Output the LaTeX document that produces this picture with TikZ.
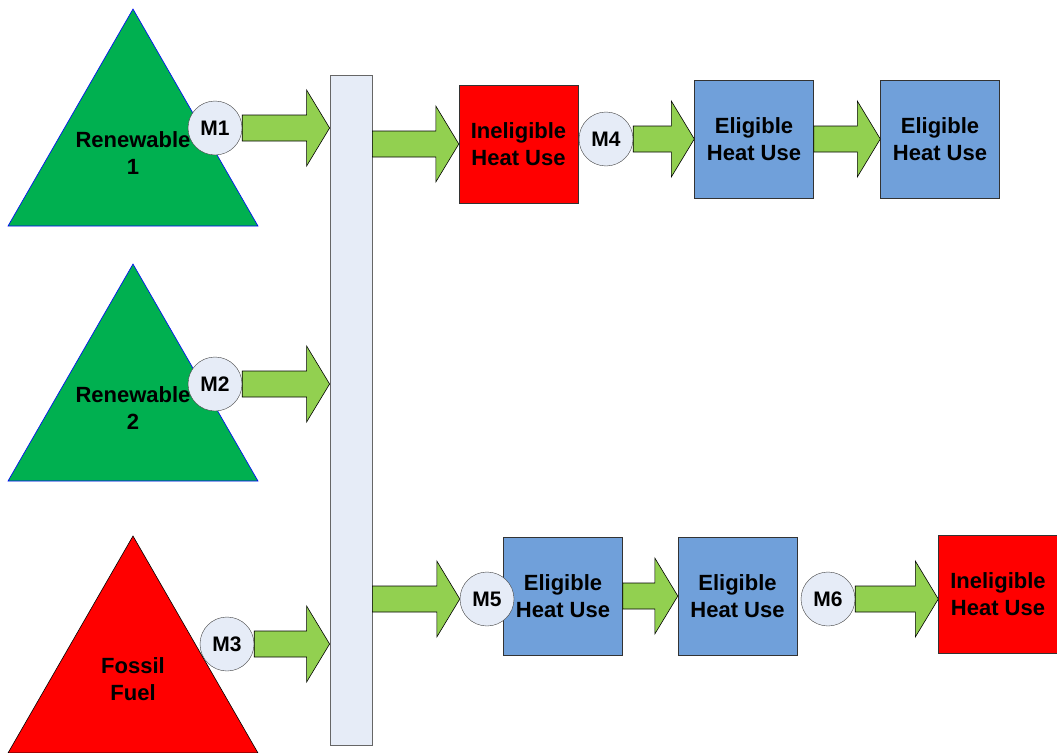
\documentclass[tikz,border=0pt]{standalone}
\usepackage{fontspec}
\setmainfont{Liberation Sans}
\usetikzlibrary{calc}
\definecolor{renewgreen}{RGB}{0,176,80}
\definecolor{arrowgreen}{RGB}{146,208,80}
\definecolor{busfill}{RGB}{230,236,247}
\definecolor{heatblue}{RGB}{112,160,218}
\tikzset{
  label text/.style={font=\bfseries\fontsize{22}{27}\selectfont, align=center},
  heatbox/.style={draw=black!80, label text, minimum width=119pt, minimum height=118pt, inner sep=0pt},
  eligible/.style={heatbox, fill=heatblue},
  ineligible/.style={heatbox, fill=red},
  meter/.style={circle, draw=black!75, fill=busfill, minimum size=54pt, inner sep=0pt,
    font=\bfseries\fontsize{21}{24}\selectfont},
  fatarrow/.style={draw=black, fill=arrowgreen, line width=0.6pt},
}
\newcommand{\myFatArrow}[2]{
\draw[fatarrow] let \p1=(#1), \p2=(#2) in
  (\x1,\y1+13pt) -- (\x2-23pt,\y1+13pt) -- (\x2-23pt,\y1+38pt) -- (\x2,\y1)
  -- (\x2-23pt,\y1-38pt) -- (\x2-23pt,\y1-13pt) -- (\x1,\y1-13pt) -- cycle;
}

\begin{document}
\begin{tikzpicture}[x=1pt, y=-1pt]
  \useasboundingbox (0,0) rectangle (1057,752);
  % define points
  \coordinate (R1top) at (133,9);
  \coordinate (R1left) at (8,226);
  \coordinate (R1right) at (258,226);
  \coordinate (R2top) at (133,264);
  \coordinate (R2left) at (8,481);
  \coordinate (R2right) at (258,481);
  \coordinate (FFtop) at (133,536);
  \coordinate (FFleft) at (8,753);
  \coordinate (FFright) at (258,753);
  % sources
  \draw[fill=renewgreen, draw=blue, line width=0.6pt] (R1top) -- (R1right) -- (R1left) -- cycle;
  \draw[fill=renewgreen, draw=blue, line width=0.6pt] (R2top) -- (R2right) -- (R2left) -- cycle;
  \draw[fill=red, draw=black, line width=0.6pt] (FFtop) -- (FFright) -- (FFleft) -- cycle;
  \node[label text] (R1) at (133,153) {Renewable\\1};
  \node[label text] (R2) at (133,408) {Renewable\\2};
  \node[label text] (FF) at (133,679) {Fossil\\Fuel};
  % header bar
  \node[draw=black!60, fill=busfill, line width=0.8pt, minimum width=42pt, minimum height=670pt,
    inner sep=0pt] (bus) at (351,410) {};
  % heat uses
  \node[ineligible] (in1) at (518.5,144) {Ineligible\\Heat Use};
  \node[eligible] (el1) at (754,139) {Eligible\\Heat Use};
  \node[eligible] (el2) at (940,139) {Eligible\\Heat Use};
  \node[eligible] (el3) at (563,596) {Eligible\\Heat Use};
  \node[eligible] (el4) at (737.5,596) {Eligible\\Heat Use};
  \node[ineligible] (in2) at (998,594.5) {Ineligible\\Heat Use};
  % meters (positions only, drawn after the arrows)
  \coordinate (m1) at (215,128);
  \coordinate (m2) at (215,384);
  \coordinate (m3) at (227,644);
  \coordinate (m4) at (606,139);
  \coordinate (m5) at (487,599);
  \coordinate (m6) at (828,599);
  \path (m1) node[meter, draw=none, fill=none] (M1) {} (m2) node[meter, draw=none, fill=none] (M2) {}
    (m3) node[meter, draw=none, fill=none] (M3) {} (m4) node[meter, draw=none, fill=none] (M4) {}
    (m5) node[meter, draw=none, fill=none] (M5) {} (m6) node[meter, draw=none, fill=none] (M6) {};
  % flows
  \myFatArrow{M1.east}{M1.east -| bus.west}
  \myFatArrow{M2.east}{M2.east -| bus.west}
  \myFatArrow{M3.east}{M3.east -| bus.west}
  \myFatArrow{bus.east |- in1.west}{in1.west}
  \myFatArrow{M4.east}{M4.east -| el1.west}
  \myFatArrow{el1.east |- el2.west}{el2.west}
  \myFatArrow{bus.east |- M5.west}{M5.west}
  \myFatArrow{el3.east |- el4.west}{el4.west}
  \myFatArrow{M6.east}{M6.east -| in2.west}
  % show meters
  \foreach \m in {1,...,6}
    \node[meter] at (m\m) {M\m};
\end{tikzpicture}
\end{document}
